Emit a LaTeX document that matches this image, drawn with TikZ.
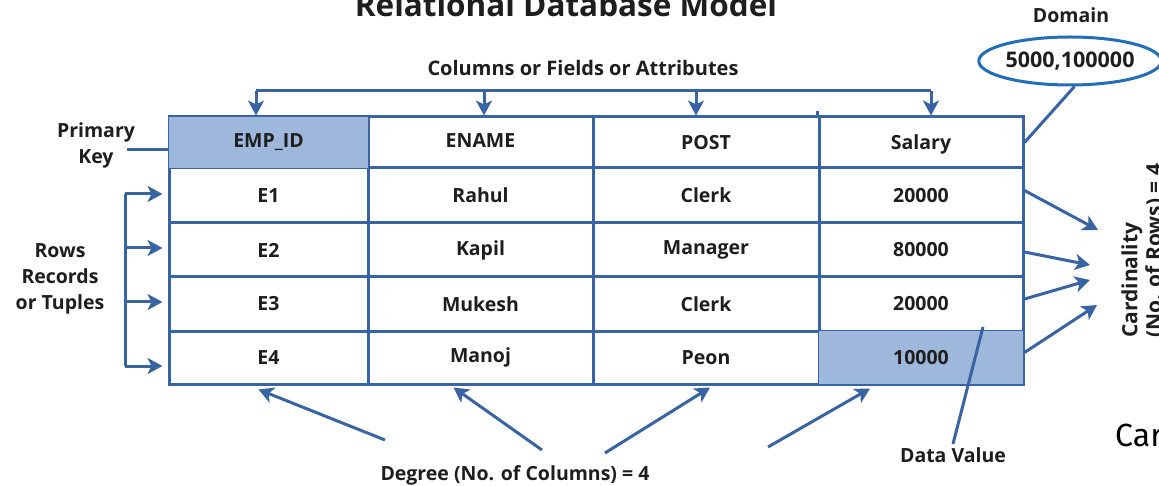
\documentclass[tikz,border=0pt]{standalone}
\usepackage{fontspec}
\setmainfont{Open Sans}
\newfontfamily\carfont{Fira Sans}
\usetikzlibrary{arrows.meta,shapes.geometric,calc}
\definecolor{lineblue}{RGB}{56,100,163}
\definecolor{cellfill}{RGB}{158,184,220}
\definecolor{ellblue}{RGB}{35,110,185}
\definecolor{txt}{RGB}{30,30,30}
\begin{document}
\begin{tikzpicture}[x=1pt,y=-1pt,
  every node/.style={text=txt, font=\bfseries\fontsize{19.5}{22}\selectfont},
  cell/.style={draw=lineblue, line width=3pt, inner sep=0pt, rectangle},
  conn/.style={draw=lineblue, line width=3pt},
  arr/.style={conn, -{Stealth[length=15pt,width=16pt,inset=4pt]}},
  lbl/.style={align=center, font=\bfseries\fontsize{19.5}{26}\selectfont}
]
\useasboundingbox (0,0) rectangle (1159,486);
\clip (0,0) rectangle (1159,486);
\fill[white] (0,0) rectangle (1159,486);

% title (cut at top)
\node[font=\bfseries\fontsize{31.5}{34}\selectfont, anchor=base, inner sep=0pt] (title) at (566,17) {Relational Database Model};

% table
\foreach \c/\x/\w in {1/268.5/199,2/480.5/225,3/706/226,4/921/204}{
  \foreach \r/\y/\h in {0/142.5/51,1/195.5/55,2/250/54,3/304/54,4/357.5/53}{
    \node[cell, minimum width=\w pt, minimum height=\h pt] (r\r c\c) at (\x,\y) {};
  }
}
\fill[cellfill] ([shift={(1.5pt,-1.5pt)}]r0c1.north west) rectangle ([shift={(-1.5pt,1.5pt)}]r0c1.south east);
\fill[cellfill] ([shift={(1.5pt,-1.5pt)}]r4c4.north west) rectangle ([shift={(-1.5pt,1.5pt)}]r4c4.south east);
\draw[conn] (r0c4.north west) -- ([yshift=4pt]r0c4.north west);

\node at (r0c1) {EMP\_ID};
\node at ([yshift=2pt]r0c2) {ENAME};
\node at (r0c3) {POST};
\node at ([yshift=-2pt]r0c4) {Salary};
\node at (r1c1) {E1}; \node at (r1c2) {Rahul}; \node at (r1c3) {Clerk}; \node at (r1c4) {20000};
\node at (r2c1) {E2}; \node at (r2c2) {Kapil}; \node at (r2c3) {Manager}; \node at (r2c4) {80000};
\node at (r3c1) {E3}; \node at (r3c2) {Mukesh}; \node at (r3c3) {Clerk}; \node at (r3c4) {20000};
\node at (r4c1) {E4}; \node at (r4c2) {Manoj}; \node at (r4c3) {Peon}; \node at (r4c4) {10000};

% columns label and arrows
\node[lbl, font=\bfseries\fontsize{20}{26}\selectfont] (cols) at (583,68) {Columns or Fields or Attributes};
\coordinate (ct1) at (256,91);
\coordinate (ct2) at (484,91);
\coordinate (ct3) at (696,91);
\coordinate (ct4) at (931,91);
\draw[conn] (ct1) -- (ct4);
\foreach \i/\c in {1/1,2/2,3/3,4/4}{
  \draw[arr] (ct\i) -- (ct\i |- r0c\c.north);
}

% primary key
\node[lbl] (pk) at (96,145) {Primary\\Key};
\coordinate (pkend) at (127,150);
\draw[conn] (pkend) -- (pkend -| r0c1.west);

% rows
\node[lbl] (rows) at (60,279) {Rows\\Records\\or Tuples};
\coordinate (rb1) at (125,194);
\coordinate (rb2) at (125,248);
\coordinate (rb3) at (125,302);
\coordinate (rb4) at (125,366);
\draw[conn] (rb1) -- (rb4);
\foreach \i in {1,2,3,4}{
  \draw[arr] (rb\i) -- ($(rb\i -| r1c1.west)+(-5,0)$);
}

% domain
\node[lbl] (dom) at (1071,15) {Domain};
\node[draw=ellblue, line width=3pt, ellipse, minimum width=172pt, minimum height=48pt, inner sep=0pt, font=\bfseries\fontsize{21.5}{24}\selectfont] (domv) at (1070,61) {5000,100000};
\draw[conn] (domv.-80) -- (r0c4.east);

% cardinality
\coordinate (ca1) at (1098,230);
\coordinate (ca2) at (1090,265);
\coordinate (ca3) at (1090,280);
\coordinate (ca4) at (1097,305);
\draw[arr] ([yshift=5pt]r1c4.east) -- (ca1);
\draw[arr] ([yshift=-2pt]r2c4.east) -- (ca2);
\draw[arr] ([yshift=5pt]r3c4.east) -- (ca3);
\draw[arr] ([yshift=5pt]r4c4.east) -- (ca4);
\node[rotate=90, anchor=west, inner sep=0pt, font=\bfseries\fontsize{21}{24}\selectfont] (card1) at (1132,338) {Cardinality};
\node[rotate=90, anchor=west, inner sep=0pt, font=\bfseries\fontsize{21}{24}\selectfont] (card2) at (1155,338) {(No. of Rows) = 4};

\node[anchor=base west, inner sep=0pt, font=\carfont\fontsize{32}{36}\selectfont, text=black] (car) at (1115,446) {Car};

% degree
\node[lbl] (deg) at (515,475) {Degree (No. of Columns) = 4};
\coordinate (ds1) at (385,440);
\coordinate (ds2) at (542,450);
\coordinate (ds3) at (605,453);
\coordinate (ds4) at (768,447);
\draw[arr] (ds1) -- ([xshift=-10pt,yshift=-4pt]r4c1.south);
\draw[arr] (ds2) -- ([xshift=-27pt,yshift=-2pt]r4c2.south);
\draw[arr] (ds3) -- ([xshift=4pt,yshift=-2pt]r4c3.south);
\draw[arr] (ds4) -- ([xshift=-51pt,yshift=-3pt]r4c4.south);

% data value
\node[lbl] (dv) at (953,455) {Data Value};
\coordinate (dvs) at (983,327);
\draw[conn] (dvs) -- (dv.north);
\end{tikzpicture}
\end{document}
